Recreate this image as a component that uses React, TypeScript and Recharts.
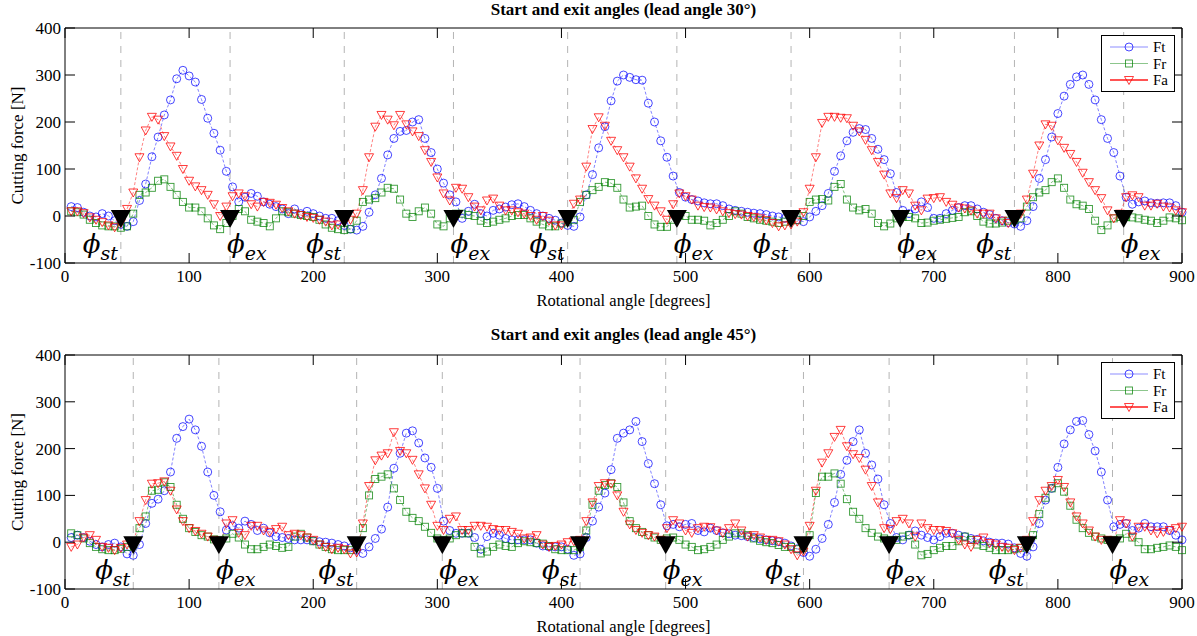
import React from 'react';
import { ComposedChart, Line, Scatter, XAxis, YAxis, ReferenceLine } from 'recharts';

// rotational angle samples [deg]
const ANGLES = [
  5, 10, 15, 20, 25, 30, 35, 40, 45, 50, 55, 60,
  65, 70, 75, 80, 85, 90, 95, 100, 105, 110, 115, 120,
  125, 130, 135, 140, 145, 150, 155, 160, 165, 170, 175, 180,
  185, 190, 195, 200, 205, 210, 215, 220, 225, 230, 235, 240,
  245, 250, 255, 260, 265, 270, 275, 280, 285, 290, 295, 300,
  305, 310, 315, 320, 325, 330, 335, 340, 345, 350, 355, 360,
  365, 370, 375, 380, 385, 390, 395, 400, 405, 410, 415, 420,
  425, 430, 435, 440, 445, 450, 455, 460, 465, 470, 475, 480,
  485, 490, 495, 500, 505, 510, 515, 520, 525, 530, 535, 540,
  545, 550, 555, 560, 565, 570, 575, 580, 585, 590, 595, 600,
  605, 610, 615, 620, 625, 630, 635, 640, 645, 650, 655, 660,
  665, 670, 675, 680, 685, 690, 695, 700, 705, 710, 715, 720,
  725, 730, 735, 740, 745, 750, 755, 760, 765, 770, 775, 780,
  785, 790, 795, 800, 805, 810, 815, 820, 825, 830, 835, 840,
  845, 850, 855, 860, 865, 870, 875, 880, 885, 890, 895, 900,
];

// lead angle 30°
const FT_30 = [
  20, 18, 8, 0, -2, 5, 0, -10, -18, -22, -12, 33,
  68, 126, 168, 215, 247, 292, 310, 298, 285, 248, 208, 176,
  140, 95, 62, 30, 40, 48, 42, 30, 25, 20, 15, 5,
  15, 5, 10, 5, 0, -5, -5, -10, -20, -28, -30, -22,
  8, 45, 80, 130, 165, 180, 182, 200, 205, 165, 135, 100,
  70, 45, 30, -5, 10, 25, 5, 0, 12, 15, 19, 24,
  26, 20, 12, 5, 0, -5, -9, -15, -20, -22, -2, 45,
  88, 145, 190, 245, 287, 300, 295, 290, 289, 240, 200, 160,
  125, 85, 50, 40, 35, 32, 28, 26, 26, 22, 15, 12,
  10, 8, 6, 5, 3, 0, -2, -5, 2, -8, -12, -2,
  10, 22, 48, 95, 128, 160, 178, 186, 184, 165, 142, 120,
  90, 50, 12, 5, 15, 30, 18, -5, -5, 5, 12, 18,
  22, 22, 15, 8, 3, -5, -10, -14, -17, -22, -10, 20,
  80, 120, 168, 218, 255, 280, 296, 300, 280, 247, 205, 165,
  135, 85, 40, 25, 30, 32, 28, 27, 28, 28, 22, 8,
];
const FR_30 = [
  10, 8, 3, -8, -15, -20, -22, -22, -25, -22, 5, 45,
  50, 60, 75, 78, 62, 45, 30, 18, 18, 10, -5, -20,
  -28, -15, 0, 15, 10, -8, -12, -15, -22, -5, 10, 8,
  5, 2, 0, -2, -8, -18, -25, -28, -30, -28, -10, 30,
  35, 38, 50, 60, 58, 35, 5, -2, 10, 18, 5, -18,
  -22, -5, 5, 5, 2, 0, -10, -15, -12, -8, -5, 0,
  2, 2, -5, -12, -18, -22, -22, -16, -12, -8, 30, 45,
  55, 62, 72, 70, 60, 35, 18, 20, 22, 0, -18, -23,
  -23, -8, 2, 0, -8, -8, -10, -20, -15, -8, 0, 10,
  5, -2, -5, -8, -10, -12, -15, -12, -9, -9, 0, 30,
  35, 36, 33, 62, 68, 35, 18, 12, 15, 5, -15, -22,
  -16, -5, -2, -2, -5, -15, -14, -10, -8, -6, -4, -2,
  8, 10, 0, -12, -16, -16, -14, -10, -9, -5, 20, 40,
  50, 55, 72, 80, 60, 35, 25, 22, 15, -10, -30, -20,
  -5, -2, -2, -3, -5, -8, -10, -15, -10, -3, -5, -9,
];
const FA_30 = [
  10, 10, 6, -3, -8, -13, -20, -24, -15, 15, 50, 125,
  182, 211, 205, 170, 148, 128, 100, 75, 63, 55, 45, 25,
  0, 20, 42, 48, 42, 25, 20, 30, 28, 24, 17, 10,
  5, 2, -2, -4, -8, -12, -20, -18, -12, -8, 5, 55,
  125, 190, 215, 205, 193, 215, 195, 180, 170, 140, 115, 82,
  48, 33, 60, 58, 40, 20, 12, 33, 37, 22, 12, 12,
  8, 5, 0, -8, 0, -10, -20, -20, -12, 26, 35, 105,
  185, 210, 192, 160, 140, 125, 105, 80, 58, 36, 22, 10,
  -8, 25, 48, 42, 35, 22, 19, 18, 14, 10, 6, 4,
  3, 0, -2, -5, -9, -15, -22, -20, -18, -12, 8, 58,
  125, 198, 211, 211, 209, 208, 192, 180, 162, 140, 115, 88,
  48, 38, 55, 48, 22, 12, 37, 38, 40, 30, 24, 18,
  16, 12, 5, 5, 5, -5, -10, -15, -10, 5, 35, 90,
  150, 195, 192, 161, 145, 132, 115, 92, 72, 55, 38, 12,
  -5, 5, 40, 44, 40, 22, 22, 26, 20, 18, 12, 8,
];

// lead angle 45°
const FT_45 = [
  10, 15, 10, 2, -5, -10, -5, -2, -10, -25, -28, -5,
  40, 83, 92, 110, 150, 222, 247, 263, 240, 205, 150, 100,
  65, 26, 35, 30, 45, 38, 25, 30, 20, 12, 10, 8,
  5, 5, 5, 3, 1, 0, -2, -5, -8, -12, -17, -24,
  -10, 8, 28, 75, 158, 190, 233, 238, 212, 180, 160, 115,
  45, 25, 19, 19, 19, 10, -15, 12, 19, 15, 8, 5,
  5, 5, 5, -2, -8, -10, -10, -10, -15, -28, -25, 10,
  45, 75, 105, 155, 222, 233, 240, 258, 215, 168, 125, 80,
  35, 38, 33, 38, 40, 25, 22, 30, 25, 20, 18, 15,
  14, 12, 10, 7, 5, 3, 1, -2, -8, -14, -22, -30,
  -15, 8, 38, 85, 145, 175, 215, 240, 190, 165, 135, 80,
  40, 10, 5, 15, 24, 15, 10, 5, 12, 19, 19, 15,
  12, 8, 6, 3, 0, -2, -2, -4, -12, -24, -30, -10,
  40, 90, 115, 160, 210, 240, 258, 260, 230, 195, 150, 90,
  33, 38, 40, 25, 30, 40, 33, 33, 33, 25, 15, 5,
];
const FR_45 = [
  19, 15, 8, -2, -10, -15, -17, -17, -14, -10, -5, 30,
  55, 110, 112, 128, 118, 80, 50, 30, 22, 15, 12, 6,
  5, 8, 18, 10, -5, -15, -15, -10, -5, -8, -12, -10,
  12, 18, 10, 2, -5, -10, -15, -17, -17, -17, -10, 30,
  100, 135, 140, 145, 115, 90, 65, 52, 45, 33, 20, 8,
  5, 8, 15, 19, 19, -10, -24, -20, -10, -5, -8, -10,
  -2, 2, 0, -2, -3, -8, -15, -17, -17, -17, -10, 25,
  80, 110, 122, 126, 118, 85, 45, 30, 22, 15, 10, 5,
  8, 10, 5, -5, -10, -17, -15, -10, -5, 5, 12, 19,
  19, 15, 8, 3, 0, -2, -6, -10, -10, -15, -12, 15,
  105, 140, 140, 147, 125, 92, 65, 50, 30, 20, 12, 8,
  5, 5, 12, 15, -5, -28, -25, -17, -12, -8, -8, 2,
  12, 5, -5, -8, -12, -17, -17, -17, -15, -12, -8, 15,
  60, 95, 115, 126, 108, 78, 48, 30, 20, 12, 8, 5,
  5, 8, 18, 10, 0, -15, -15, -12, -10, -7, -10, -17,
];
const FA_45 = [
  -10, -5, 10, 15, 5, -10, -12, -17, -12, -5, 0, 45,
  90, 125, 126, 130, 110, 70, 45, 30, 24, 18, 12, 5,
  -5, 40, 47, 20, 15, 35, 35, 25, 22, 28, 33, 15,
  18, 15, 10, 5, -5, -10, -15, -12, -15, -24, -22, 40,
  120, 175, 185, 190, 235, 195, 190, 176, 145, 115, 80, 35,
  26, 50, 55, 26, 26, 35, 35, 33, 28, 26, 26, 22,
  18, 8, 10, 15, -5, -10, -8, -5, 0, 2, 5, 45,
  85, 120, 126, 125, 100, 65, 38, 26, 20, 15, 12, 5,
  30, 47, 40, 25, 20, 30, 33, 32, 25, 20, 30, 40,
  25, 12, 15, 10, 5, 5, 2, -5, -15, -28, -20, 35,
  110, 170, 190, 225, 240, 205, 188, 180, 155, 120, 85, 30,
  28, 45, 50, 40, 12, 40, 30, 26, 26, 24, 19, 5,
  -5, -10, 5, 10, -2, -5, -10, -12, -17, -12, 5, 45,
  90, 110, 120, 133, 118, 85, 55, 40, 25, 12, 5, 5,
  3, 47, 40, 12, 33, 33, 25, 19, 22, 26, 30, 33,
];

const START_30 = [45, 225, 405, 585, 765];
const EXIT_30 = [133, 313, 493, 673, 853];
const START_45 = [55, 235, 415, 595, 775];
const EXIT_45 = [124, 304, 484, 664, 844];

const X_TICKS = [0, 100, 200, 300, 400, 500, 600, 700, 800, 900];
const Y_TICKS = [-100, 0, 100, 200, 300, 400];

const SERIES = [
  { key: 'Ft', color: '#0000ff', marker: 'circle' },
  { key: 'Fr', color: '#008000', marker: 'square' },
  { key: 'Fa', color: '#ff0000', marker: 'triangle' },
];

const SERIF = '"Liberation Serif", "Times New Roman", serif';
const PLOT_W = 1117;

function markerShape(kind: string, color: string, cx: number, cy: number, key?: any) {
  if (kind === 'circle') {
    return <circle key={key} cx={cx} cy={cy} r={4} fill="none" stroke={color} strokeWidth={0.9} strokeOpacity={0.8} />;
  }
  if (kind === 'square') {
    return <rect key={key} x={cx - 3.5} y={cy - 3.5} width={7} height={7} fill="none" stroke={color} strokeWidth={0.9} strokeOpacity={0.8} />;
  }
  return (
    <path key={key} d={`M${cx - 4.5},${cy - 3.5} L${cx + 4.5},${cy - 3.5} L${cx},${cy + 4.5} Z`} fill="none" stroke={color} strokeWidth={0.9} strokeOpacity={0.85} />
  );
}

function PhiText({ vb, kind }: any) {
  if (!vb) return null;
  const bottom = vb.y + vb.height;
  const st = kind === 'st';
  return (
    <text
      x={vb.x - 3}
      y={bottom - 10}
      textAnchor={st ? 'end' : 'start'}
      fill="#000"
      fontFamily='"DejaVu Serif", serif'
      fontStyle="italic"
    >
      <tspan fontSize={26}>ϕ</tspan>
      <tspan fontSize={19} dy={7}>{kind}</tspan>
    </text>
  );
}

function LegendBox({ top }: { top: number }) {
  return (
    <div
      style={{
        position: 'absolute', left: 1101, top, width: 74, height: 57,
        border: '1px solid #000', background: '#fff', boxSizing: 'border-box',
      }}
    >
      <svg width={72} height={55} style={{ display: 'block' }}>
        {SERIES.map((s, i) => {
          const y = 11 + i * 16.5;
          return (
            <g key={s.key}>
              <line x1={8} x2={46} y1={y} y2={y} stroke={s.color} strokeOpacity={s.key === 'Fa' ? 0.9 : 0.45} strokeWidth={s.key === 'Fa' ? 1.4 : 1} />
              {markerShape(s.marker, s.color, 27, y)}
              <text x={51} y={y + 5} style={{ fontFamily: SERIF, fontSize: 15 }} fill="#000">{s.key}</text>
            </g>
          );
        })}
      </svg>
    </div>
  );
}

function Panel({ title, ft, fr, fa, starts, exits, marginTop, marginBottom, titleTop, legendTop }: any) {
  const rows = ANGLES.map((a, i) => ({ angle: a, Ft: ft[i], Fr: fr[i], Fa: fa[i] }));
  const events = [...starts, ...exits].map((a: number) => ({ angle: a, mark: 0 }));
  const plotH = 318 - marginTop - marginBottom - 40;
  const tickStyle = { fontFamily: SERIF, fontSize: 17 };
  const labelStyle = { fontFamily: SERIF, fontSize: 16.5 };

  const xTick = (p: any) => {
    const { x, y, payload } = p;
    return (
      <g>
        <line x1={x} x2={x} y1={y} y2={y - 10} stroke="#000" />
        <line x1={x} x2={x} y1={y - plotH} y2={y - plotH + 10} stroke="#000" />
        <text x={x} y={y + 19} textAnchor="middle" style={tickStyle} fill="#000">{payload.value}</text>
      </g>
    );
  };
  const yTick = (p: any) => {
    const { x, y, payload } = p;
    return (
      <g>
        <line x1={x} x2={x + 10} y1={y} y2={y} stroke="#000" />
        <line x1={x + PLOT_W - 10} x2={x + PLOT_W} y1={y} y2={y} stroke="#000" />
        <text x={x - 4} y={y + 6} textAnchor="end" style={tickStyle} fill="#000">{payload.value}</text>
      </g>
    );
  };
  const yLabel = (p: any) => {
    const vb = p.viewBox || { x: 10, y: marginTop, width: 55, height: plotH };
    const cx = vb.x + 7;
    const cy = vb.y + vb.height / 2;
    return (
      <text x={cx} y={cy} transform={`rotate(-90 ${cx} ${cy})`} textAnchor="middle" dominantBaseline="central" style={{ fontFamily: SERIF, fontSize: 17 }} fill="#000">
        Cutting force [N]
      </text>
    );
  };
  const xLabel = (p: any) => {
    const vb = p.viewBox || { x: 65, y: 318 - marginBottom - 40, width: PLOT_W, height: 40 };
    return (
      <text x={vb.x + vb.width / 2} y={vb.y + 43} textAnchor="middle" style={labelStyle} fill="#000">
        Rotational angle [degrees]
      </text>
    );
  };

  return (
    <div style={{ position: 'relative', width: 1197, height: 318 }}>
      <div style={{ position: 'absolute', left: 65, width: PLOT_W, top: titleTop, textAlign: 'center', fontFamily: SERIF, fontWeight: 'bold', fontSize: 17, lineHeight: '20px' }}>
        {title}
      </div>
      <ComposedChart width={1197} height={318} data={rows} margin={{ top: marginTop, right: 15, bottom: marginBottom, left: 10 }}>
        <XAxis
          dataKey="angle" type="number" domain={[0, 900]} ticks={X_TICKS} height={40}
          tickLine={false} tickSize={0} tickMargin={0} tick={xTick} axisLine={{ stroke: '#000' }}
          label={xLabel}
        />
        <YAxis
          type="number" domain={[-100, 400]} ticks={Y_TICKS} width={55}
          tickLine={false} tickSize={0} tickMargin={0} tick={yTick} axisLine={{ stroke: '#000' }}
          label={yLabel}
        />
        {starts.map((a: number) => (
          <ReferenceLine key={`s${a}`} x={a} stroke="#b4b4b4" strokeDasharray="7 7" label={(p: any) => <PhiText vb={p.viewBox} kind="st" />} />
        ))}
        {exits.map((a: number) => (
          <ReferenceLine key={`e${a}`} x={a} stroke="#b4b4b4" strokeDasharray="7 7" label={(p: any) => <PhiText vb={p.viewBox} kind="ex" />} />
        ))}
        <ReferenceLine y={400} stroke="#000" />
        <ReferenceLine x={900} stroke="#000" />
        {SERIES.map((s) => (
          <Line
            key={s.key}
            dataKey={s.key}
            type="linear"
            stroke={s.color}
            strokeOpacity={0.55}
            strokeWidth={0.9}
            strokeDasharray="3 2"
            isAnimationActive={false}
            activeDot={false}
            dot={(p: any) => (p.cx == null || p.cy == null ? <g key={`${s.key}-${p.index}`} /> : markerShape(s.marker, s.color, p.cx, p.cy, `${s.key}-${p.index}`))}
          />
        ))}
        <Scatter
          data={events}
          dataKey="mark"
          isAnimationActive={false}
          shape={(p: any) => (
            <path d={`M${p.cx - 10},${p.cy - 6} L${p.cx + 10},${p.cy - 6} L${p.cx},${p.cy + 12} Z`} fill="#000" />
          )}
        />
      </ComposedChart>
      <LegendBox top={legendTop} />
    </div>
  );
}

export default function App() {
  return (
    <div style={{ position: 'absolute', left: 0, top: 0, width: 1197, height: 636, background: '#fff' }}>
      <Panel
        title="Start and exit angles (lead angle 30°)"
        ft={FT_30} fr={FR_30} fa={FA_30} starts={START_30} exits={EXIT_30}
        marginTop={28} marginBottom={15} titleTop={0} legendTop={35}
      />
      <Panel
        title="Start and exit angles (lead angle 45°)"
        ft={FT_45} fr={FR_45} fa={FA_45} starts={START_45} exits={EXIT_45}
        marginTop={37} marginBottom={7} titleTop={7} legendTop={44}
      />
    </div>
  );
}
